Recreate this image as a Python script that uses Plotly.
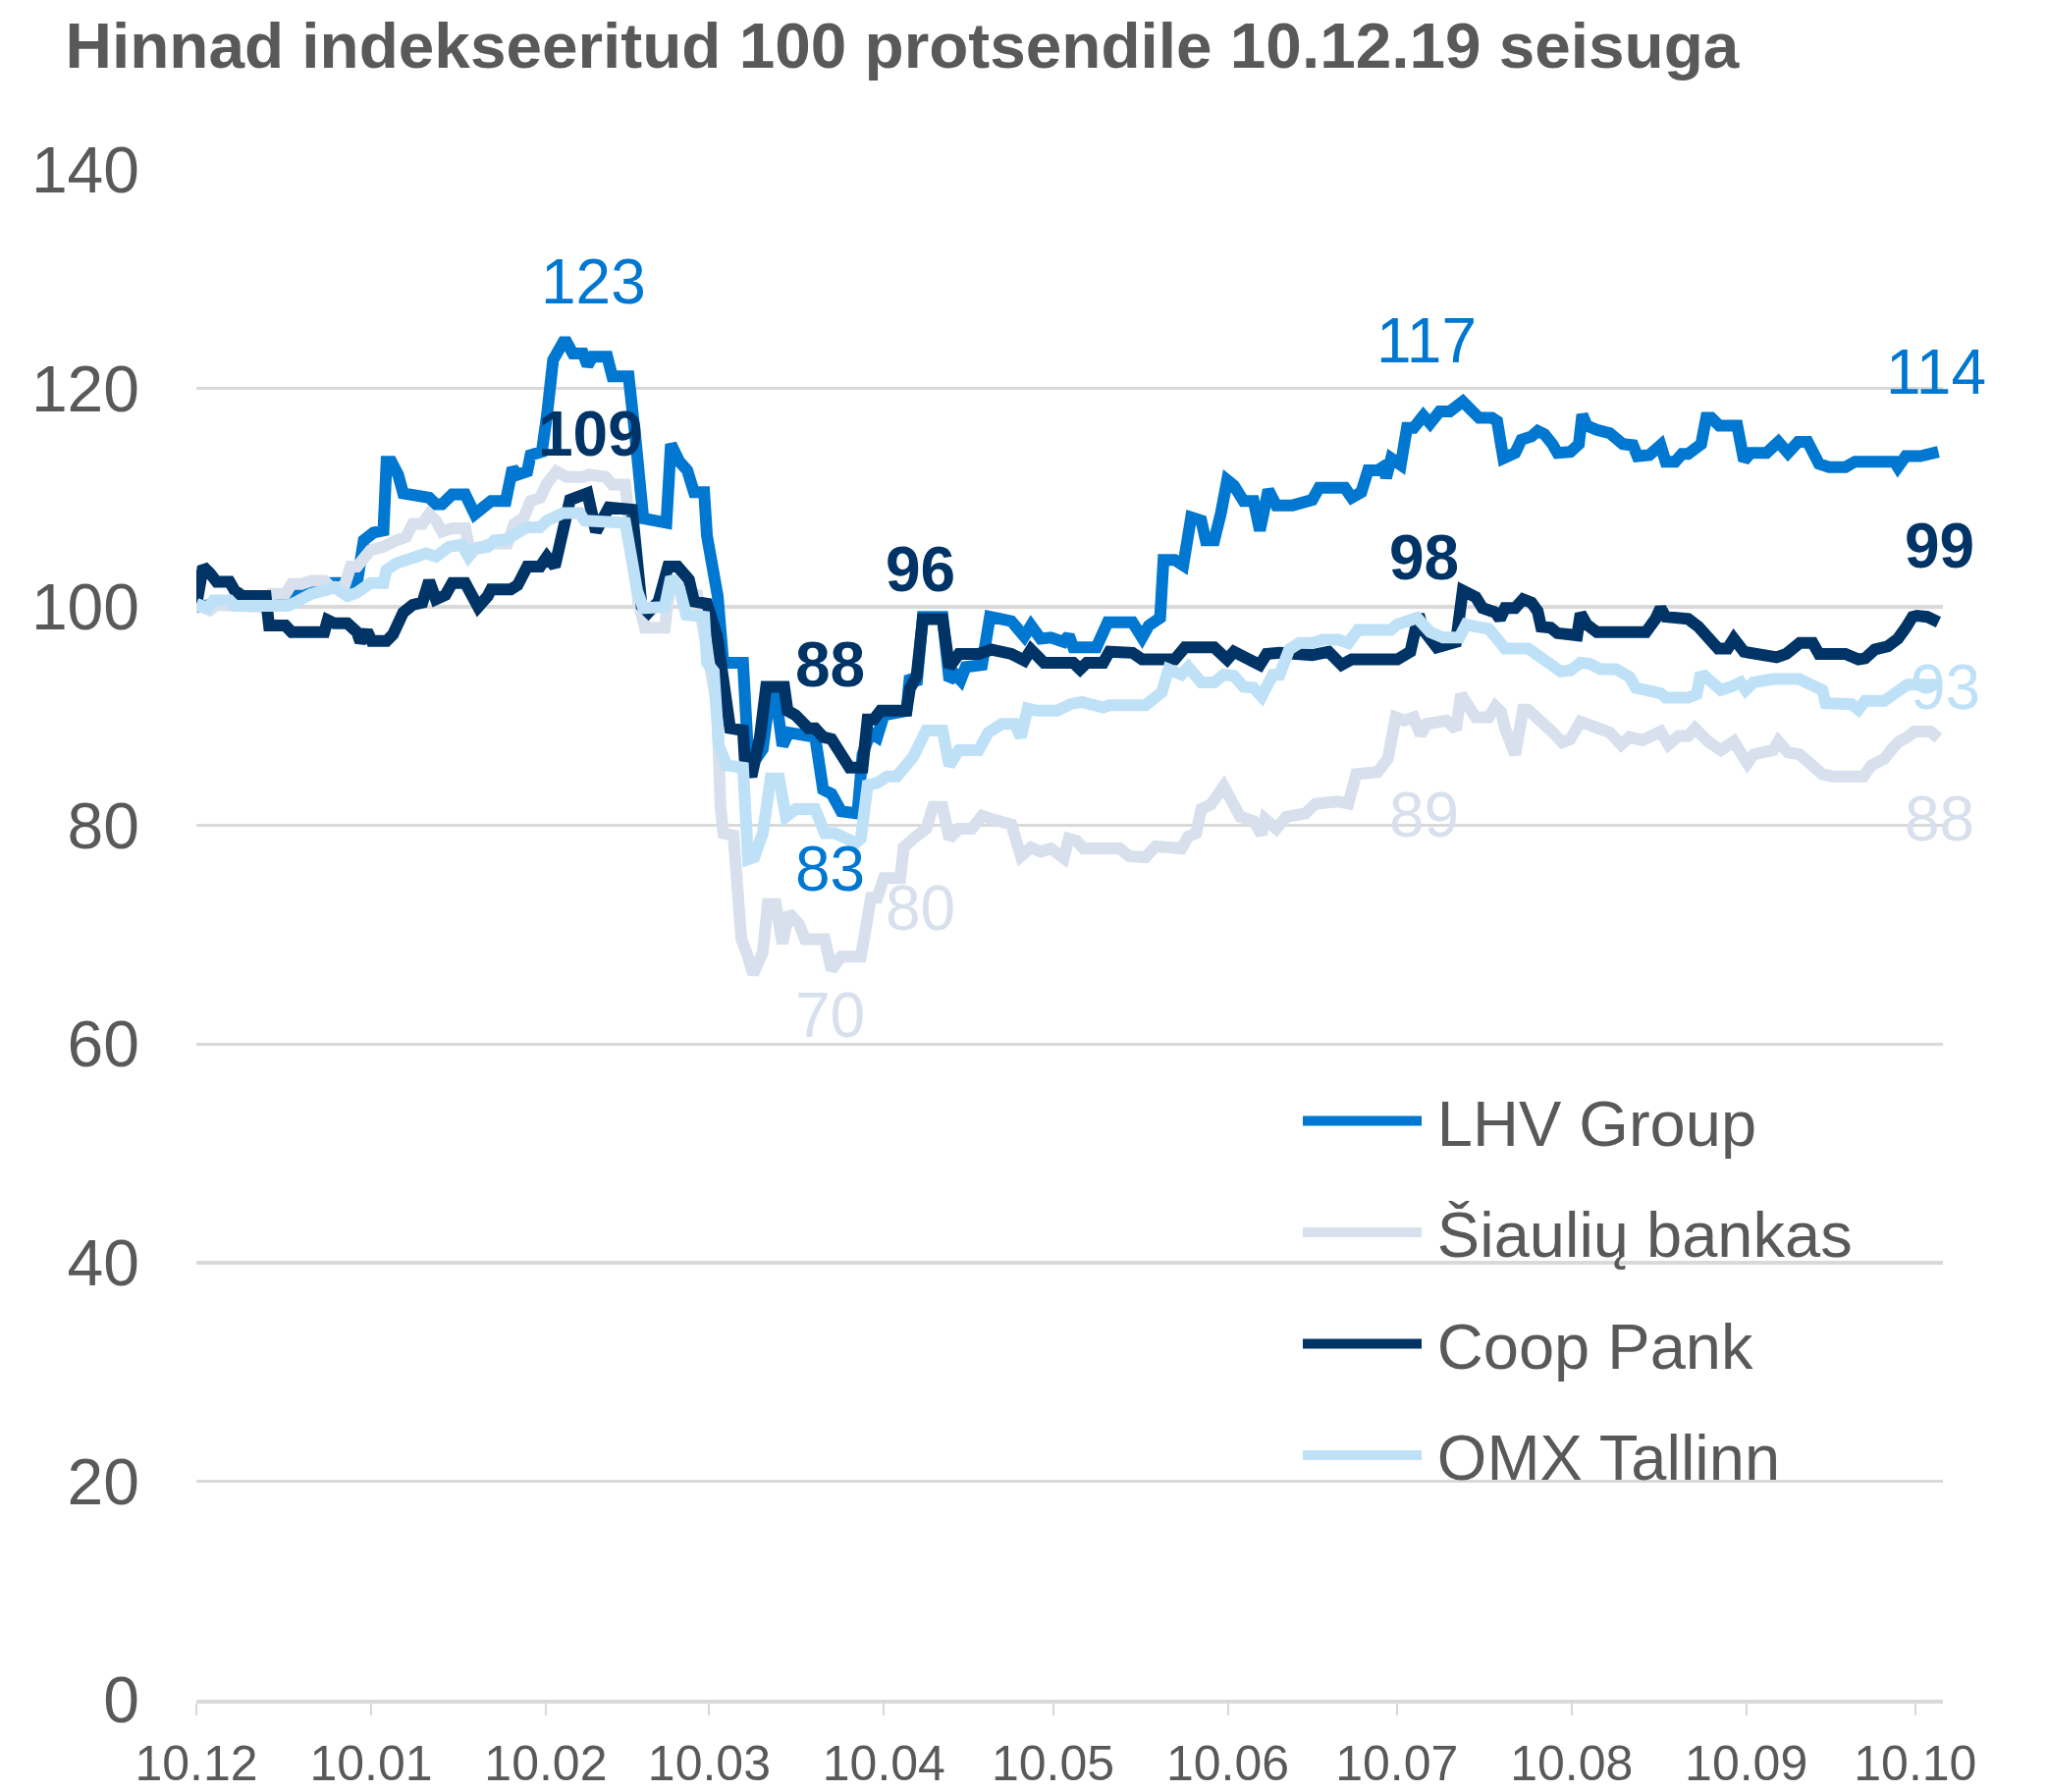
import pandas as pd
import plotly.graph_objects as go

START = pd.Timestamp("2019-12-10")

# ---- data: days since 10.12.2019 and index values (10.12.19 = 100) ----
lhv_days = [0, 4, 8, 13, 20, 23, 28.5, 29.7, 31.4, 33.2, 33.75, 34.6, 35.8, 36.7, 39, 41.3, 42.5, 43.6, 45.4, 47.7,
            49.4, 50.6, 52.3, 54.9, 56.1, 57, 58.7, 59.3, 61.3, 62.2, 63.3, 65.4, 66.8, 68.6, 69.4, 70.3, 72.9, 73.8,
            76.7, 78, 79.3, 83.4, 84.2, 85.7, 87.1, 88.3, 90.1, 90.6, 91.5, 92.5, 93.5, 97, 97.9, 99.3, 100.5, 101.7,
            102.8, 104, 105.1, 107.5, 109.8, 111.2, 112.7, 114.4, 117.3, 118.2, 119.6, 120.8, 122, 126, 126.6, 127.8,
            128.9, 132.4, 133.6, 134.7, 135.6, 136.5, 139.4, 140.8, 144.6, 146.9, 148.1, 149.8, 151.6, 153.9, 154.8,
            155.6, 159.7, 161.7, 166.1, 167.8, 169, 171, 171.6, 173.6, 175.1, 176.5, 178.3, 179.1, 180.6, 181.8, 182.9,
            184.1, 185.8, 187.6, 188.7, 190.2, 191.6, 194.5, 196.8, 198, 199.2, 203.8, 205, 206.7, 207.9, 209.6, 210.8,
            211.1, 212, 213.7, 214.8, 216, 217.7, 218.9, 220.6, 222.4, 224.7, 227.6, 229.9, 230.8, 231.9, 234, 235.1,
            236.9, 238, 239.2, 240.6, 241.5, 243.8, 245.3, 245.9, 246.7, 248.5, 250.8, 253.1, 254.9, 255.7, 257.8,
            259.8, 260.7, 262.4, 263.6, 264.7, 267, 267.9, 268.8, 270.2, 273.4, 274.6, 275.8, 278.6, 280.7, 282.4,
            284.2, 285.9, 287.4, 287.9, 289.7, 292.6, 294.3, 301.3, 301.9, 303.3, 305.9, 307.4, 309.1]
lhv_vals = [100, 100.3, 100.6, 101, 101.5, 102.2, 102.2, 106.1, 106.8, 107, 113.3, 113.3, 112.1, 110.4, 110.3, 110,
            109.4, 109.4, 110.3, 110.3, 108.5, 109.1, 109.7, 109.7, 112.7, 112.1, 112.4, 113.9, 114.2, 117.5, 122.6,
            124.5, 123.2, 123.2, 122.1, 122.9, 122.9, 121.1, 121.1, 115, 108.1, 107.7, 114.9, 113.3, 112.5, 110.5,
            110.5, 106.5, 103.5, 101, 94.9, 94.9, 86.5, 86.1, 87, 91.7, 91.9, 87.3, 88.5, 88.3, 88.1, 83.3, 82.9, 81.3,
            81.1, 86.5, 88.5, 88.1, 90.1, 90.5, 93.7, 92.9, 99.1, 99.1, 93.3, 93.8, 93.3, 94.5, 94.7, 99.1, 98.7, 97.3,
            98.3, 97.1, 97.2, 96.8, 97.4, 96.3, 96.3, 98.6, 98.6, 97.2, 98.3, 99, 104.3, 104.3, 103.8, 108.2, 107.9,
            106.1, 106.1, 108.6, 111.6, 111.1, 109.7, 109.7, 107, 110.7, 109.3, 109.3, 109.8, 109.8, 110.9, 110.9, 110,
            110.5, 112.5, 112.5, 112.9, 111.8, 113.6, 113, 116.4, 116.4, 117.5, 116.8, 117.9, 117.9, 118.8, 117.3,
            117.3, 117, 113.6, 114.1, 115.3, 115.6, 116.1, 115.8, 114.9, 114.1, 114.2, 114.9, 117.6, 116.6, 116.2,
            115.9, 114.9, 114.8, 113.8, 113.9, 114.8, 113.3, 113.3, 114, 114, 114.9, 117.3, 117.3, 116.6, 116.6, 113.4,
            114.1, 114.1, 115.1, 114.1, 115.1, 115.1, 113.9, 113.1, 112.8, 112.8, 113.3, 113.3, 112.8, 113.8, 113.8,
            114.1, 114.2]

siaul_days = [0, 1.3, 2.4, 3.6, 5.9, 6.8, 12.3, 13.4, 15.8, 16.9, 18.7, 20.4, 22.7, 23.9, 26.2, 27.4, 28.5, 30.9,
              33.2, 35.5, 37.2, 38.4, 40.1, 41.3, 42.5, 43.6, 45.4, 47.7, 48.5, 50.6, 52.3, 55.2, 56.4, 58.1, 59.3, 61,
              62.2, 63.9, 65.7, 68.6, 69.7, 72.6, 73.8, 76.1, 77.3, 78.4, 79.6, 83.1, 84.2, 85.1, 86.6, 88.9, 90.1,
              91.2, 92.4, 93, 93.5, 95.3, 96.7, 97.6, 98.8, 100.5, 101.4, 102.8, 104, 105.1, 106.9, 108, 111.5, 112.7,
              114.4, 117.9, 119.1, 119.7, 120.8, 122, 124.9, 125.5, 127.2, 129.5, 130.7, 132.4, 133.6, 135.3, 137.6,
              139.4, 141.7, 144.6, 146.3, 148.1, 149.8, 151.6, 153.9, 154.8, 156.2, 157.4, 163.8, 165.5, 168.4, 170.2,
              174.8, 176, 177.4, 178.3, 180, 182.3, 185.2, 187.6, 189, 189.6, 191.6, 193.4, 196.8, 198.6, 202.6, 204.4,
              205.8, 209.6, 211.4, 212.8, 214.3, 216, 217.2, 218.3, 221.8, 223.5, 224.4, 225.9, 227, 229.3, 230.5,
              231.5, 232.2, 234, 235.4, 236.3, 238.6, 240.3, 242.4, 243.8, 245.6, 246.7, 248.5, 250.8, 252.8, 254.3,
              256.6, 258.3, 259.8, 261.2, 263, 264.7, 265.9, 268.2, 270.5, 272.8, 275.2, 276.3, 279.8, 280.7, 282.4,
              284.5, 288.5, 290.3, 295.8, 297.2, 299.5, 300.7, 301.9, 303.6, 304.8, 307.7, 309.1]
siaul_vals = [100.2, 100, 99.7, 100.2, 100.2, 100, 100, 101.2, 101.2, 102.1, 102.1, 102.4, 102.4, 101.8, 101.8, 103.7,
              103.7, 105.2, 105.5, 106.1, 106.4, 107.6, 107.6, 108.5, 107.9, 106.9, 107.2, 107.2, 105.3, 105.5, 105.8,
              105.8, 107.6, 108.2, 109.7, 110, 111.3, 112.4, 111.9, 111.9, 112.1, 111.9, 111.2, 111.2, 105.3, 100.5,
              98.1, 98.1, 102.5, 102.1, 101.3, 101.1, 97.3, 94.9, 90.9, 81.7, 79.3, 79.1, 69.6, 68.4, 66.4, 68.4, 72.8,
              72.8, 69.2, 72, 71, 69.6, 69.6, 66.8, 68, 68, 70.8, 73.4, 73.4, 75.2, 75.2, 78, 78.8, 79.7, 81.7, 81.7,
              78.8, 79.7, 79.7, 80.9, 80.5, 80.1, 77.2, 78, 77.6, 77.9, 77, 78.8, 78.6, 77.9, 77.9, 77.2, 77.1, 78.1,
              77.9, 79, 79.3, 81.5, 81.9, 83.6, 80.8, 80.4, 79.2, 80.6, 79.7, 80.8, 81.1, 82, 82.2, 82, 84.7, 84.9, 86.1,
              89.9, 89.6, 89.9, 88.3, 89.3, 89.6, 88.8, 92, 90.8, 89.9, 89.9, 90.9, 90.4, 88.9, 86.5, 90.6, 90.6, 89.7,
              88.7, 87.6, 87.9, 89.5, 89.3, 88.7, 88.5, 87.4, 88.1, 87.8, 88.1, 88.6, 87.4, 88.2, 88.2, 88.9, 87.7,
              86.9, 87.7, 85.7, 86.5, 86.9, 87.7, 86.7, 86.5, 84.7, 84.5, 84.5, 85.5, 86.1, 86.9, 87.6, 88.1, 88.6,
              88.6, 88]

coop_days = [0, 1.2, 2.4, 3.6, 5.9, 6.8, 8.2, 12.3, 12.9, 15.8, 16.9, 22.7, 23.3, 24.5, 26.8, 28.5, 29.1, 30.3, 31.1,
             33.75, 34.9, 36.7, 38.4, 40.1, 41.3, 42.5, 44.2, 45.4, 47.7, 49.1, 50, 51.7, 52.3, 55.8, 57, 58.7, 61,
             62.2, 63.6, 66.3, 68, 69.4, 70.9, 72.6, 73.2, 77.3, 78.4, 79, 80.2, 82, 83.7, 85.4, 87.4, 88.3, 90.6,
             91.8, 92.4, 94.7, 97, 97.3, 98.5, 100, 101.1, 104.3, 104.9, 106.3, 108.6, 109.8, 111.2, 112.7, 115, 115.9,
             118.2, 119.1, 120.2, 121.4, 126, 126.6, 127.8, 128.9, 132.4, 133.6, 135.3, 138.8, 141.1, 144.6, 146.9,
             148.1, 150.4, 155.6, 156.8, 158, 160.9, 162, 166.1, 167.8, 173.6, 175.4, 180.6, 182.9, 184.1, 186.4,
             188.7, 189.9, 192.2, 198, 200.9, 203.2, 205, 213.1, 215.4, 216.9, 217.7, 220.1, 221.2, 223.5, 224.7, 227,
             228.2, 230.5, 231.3, 232.2, 234, 235.4, 236.9, 238, 238.6, 240.3, 241.5, 243.8, 245, 245.6, 246.7, 248.5,
             257.2, 258.9, 259.8, 260.7, 264.7, 266.5, 268.2, 270, 271.7, 272.8, 274.6, 279.2, 280.4, 282.1, 284.5,
             286.8, 287.9, 292.6, 294.9, 296.1, 297.8, 300.1, 301.9, 303.3, 304.5, 305.3, 307.1, 309.1]
coop_vals = [100.2, 103.7, 103.1, 102.3, 102.3, 101.5, 101, 101, 98.3, 98.3, 97.7, 97.7, 98.8, 98.5, 98.5, 97.7, 96.8,
             97.8, 96.9, 96.9, 97.5, 99.5, 100.2, 100.4, 102.4, 100.7, 101.1, 102.2, 102.2, 101, 100, 101, 101.6, 101.6,
             102, 103.7, 103.7, 104.6, 103.7, 109.8, 110, 110.4, 106.9, 108.6, 109.1, 108.9, 104.5, 100.1, 99.5, 100.5,
             103.7, 103.7, 102.5, 100.5, 100.3, 98.1, 97.3, 88.9, 88.7, 86.1, 84.5, 88.1, 92.7, 92.7, 90.5, 90.1, 88.9,
             88.9, 88.1, 87.9, 86.1, 85.3, 85.3, 89.7, 89.7, 90.5, 90.5, 92.5, 93.7, 98.9, 98.9, 94.5, 95.7, 95.7, 96.1,
             95.7, 95.1, 96.1, 94.9, 94.9, 94.3, 94.9, 94.9, 95.9, 95.8, 95.2, 95.2, 96.3, 96.3, 95.2, 95.9, 95.2, 94.7,
             95.7, 95.8, 95.6, 95.9, 94.7, 95.2, 95.2, 95.9, 99.3, 97.9, 96.3, 96.5, 96.8, 101.5, 100.9, 99.9, 99.5,
             98.9, 99.9, 99.9, 100.7, 100.4, 99.6, 98.2, 98.1, 97.6, 97.6, 97.4, 99.4, 98.4, 97.7, 97.7, 98.9, 99.9,
             99.1, 98.9, 98.2, 97.2, 96.2, 96.2, 97.1, 95.9, 95.7, 95.4, 95.7, 96.7, 96.7, 95.7, 95.7, 95.2, 95.3, 96.1,
             96.4, 97.1, 98.1, 99.1, 99.2, 99.1, 98.6]

omx_days = [0, 2, 3, 5.9, 6.8, 16.3, 17.5, 20.4, 22.7, 24.5, 26.8, 28.5, 30.9, 33.2, 33.75, 35.5, 39, 40.7, 42.5,
            44.8, 47.1, 48.3, 49.4, 51.7, 52.9, 55.2, 57, 58.7, 61, 62.2, 65.1, 68, 68.9, 70.9, 72.6, 76.1, 77.2, 78.2,
            79.3, 83.1, 84.2, 85.7, 86.9, 90.1, 90.6, 91.8, 92.7, 94.1, 97, 97.3, 97.9, 99, 100.5, 101.9, 103.4, 104.6,
            106.3, 109.8, 111.5, 113.3, 115, 117, 117.9, 119.1, 120.8, 122.6, 124.3, 126, 127.2, 129.5, 132.4, 133.6,
            135.3, 138.8, 140.5, 142.9, 145.2, 146.3, 147.5, 149.2, 152.7, 155.1, 157.1, 160.9, 162, 168.4, 171.3,
            172.5, 174.8, 176, 178.3, 180.6, 182.3, 184.1, 185.8, 187.6, 189, 191, 192.2, 193.9, 195.7, 198, 199.8,
            202.7, 204.4, 206.1, 207.3, 209.6, 211.9, 213.1, 214.8, 216.6, 218.9, 221.2, 224.1, 225.3, 227, 229.3,
            231.1, 232.2, 236.3, 238, 239.8, 242.1, 243.8, 245.6, 247.3, 249.1, 251.9, 254.3, 255.4, 257.2, 259.8,
            260.7, 264.7, 266.2, 266.8, 267.6, 269.4, 270.5, 272.3, 274, 274.9, 276.3, 279.8, 284.5, 285.6, 287.1,
            288.5, 289.1, 291.4, 293.7, 294.9, 296.1, 299.5, 301.9, 303.6, 305.9, 309.1]
omx_vals = [100.3, 99.9, 100.6, 100.6, 100.1, 100.1, 100.4, 101.2, 101.5, 101.8, 101, 101.3, 102.2, 102.2, 103.4, 104,
            104.6, 104.9, 104.6, 105.5, 105.7, 104.6, 105.3, 105.5, 106.1, 106.2, 106.8, 107.3, 107.3, 107.9, 108.6,
            108.6, 107.9, 107.9, 107.7, 107.7, 104.5, 101.5, 99.9, 100, 102.7, 101.7, 99.3, 99.1, 94.9, 94.1, 87.3,
            85.5, 85.3, 79.3, 76.9, 77.1, 79.3, 84.3, 84.3, 80.8, 81.5, 81.5, 79.3, 79.3, 78.8, 78.4, 78.8, 83.7, 83.9,
            84.5, 84.5, 85.7, 86.3, 88.7, 88.7, 85.5, 86.9, 86.9, 88.5, 89.3, 89.3, 88.1, 90.7, 90.5, 90.5, 91.1, 91.3,
            90.8, 91, 91, 92.2, 94.3, 93.8, 94.5, 93.1, 93.1, 93.8, 93.7, 92.7, 92.6, 91.8, 93.8, 93.8, 96.1, 96.7,
            96.7, 97, 97, 96.7, 97.9, 97.9, 98.1, 97.9, 98.4, 98.7, 99, 97.7, 97.2, 97.2, 98.4, 98.2, 98, 96.9, 96.2,
            96.2, 95.6, 95.2, 94.1, 94.2, 94.9, 94.8, 94.3, 94.3, 93.6, 92.6, 92.5, 92.1, 91.7, 91.7, 92, 93.6, 93.7,
            92.7, 92.4, 92.7, 93.1, 92.4, 93.1, 93.4, 93.4, 93.1, 92.6, 92.4, 91.2, 91.2, 91.1, 90.6, 91.4, 91.4, 92.1,
            92.9, 92.9, 92.9]

series_names = ["LHV Group", "Šiaulių bankas", "Coop Pank", "OMX Tallinn"]
tick_dates = ["2019-12-10", "2020-01-10", "2020-02-10", "2020-03-10", "2020-04-10", "2020-05-10",
              "2020-06-10", "2020-07-10", "2020-08-10", "2020-09-10", "2020-10-10"]
tick_labels = ["10.12", "10.01", "10.02", "10.03", "10.04", "10.05", "10.06", "10.07", "10.08", "10.09", "10.10"]
y_ticks = [0, 20, 40, 60, 80, 100, 120, 140]

# data labels: (text, series index)
label_texts = ["123", "109", "88", "83", "70", "80", "96", "117", "98", "89", "114", "99", "93", "88"]
label_series = [0, 2, 2, 0, 1, 1, 2, 0, 2, 1, 0, 2, 3, 1]

# ---- styling ----
FONT = "Liberation Sans, Arial, sans-serif"
TEXT = "#595959"
GRID = "#D9D9D9"
colors = ["#0077D0", "#D7E0EC", "#003466", "#BFE1F7"]
bold = [False, False, True, False]
# label positions (days since start, y value) and extra pixel shift
label_pos = [(70.4, 129.8), (69.9, 115.8), (112.5, 94.7), (112.5, 76.0), (112.5, 62.6), (128.5, 72.4),
             (128.5, 103.4), (218.3, 124.4), (217.9, 104.5), (217.9, 81.0), (308.6, 121.5), (309.3, 105.6),
             (309.3, 92.6), (309.3, 80.6)]
label_xshift = [0, 0, 0, 0, 0, 0, 0, 0, 0, 0, 0, 0, 6, 0]

FIG_W, FIG_H = 2085, 1825
PAD = "\u200a\u200a"


def to_dates(days):
    return START + pd.to_timedelta(pd.Series(days, dtype=float), unit="D")


fig = go.Figure()
all_days = [lhv_days, siaul_days, coop_days, omx_days]
all_vals = [lhv_vals, siaul_vals, coop_vals, omx_vals]
for i, name in enumerate(series_names):
    fig.add_trace(go.Scatter(
        x=to_dates(all_days[i]), y=all_vals[i], mode="lines", name=PAD + name,
        legendgroup=f"g{i}",
        line=dict(color=colors[i], width=12),
        hoverinfo="skip",
    ))

for txt, si, (d, v), xs in zip(label_texts, label_series, label_pos, label_xshift):
    fig.add_annotation(
        x=START + pd.Timedelta(days=d), y=v, text=(f"<b>{txt}</b>" if bold[si] else txt),
        showarrow=False, xanchor="center", yanchor="middle", xshift=xs,
        font=dict(family=FONT, size=64, color=colors[si]),
    )

x_end = START + pd.Timedelta(days=309.9)

fig.update_layout(
    width=FIG_W, height=FIG_H,
    margin=dict(l=200, r=106, t=173, b=94, autoexpand=False),
    paper_bgcolor="white", plot_bgcolor="white",
    font=dict(family=FONT, color=TEXT),
    title=dict(text="<b>Hinnad indekseeritud 100 protsendile 10.12.19 seisuga</b>",
               x=66.5 / FIG_W, xref="container", xanchor="left",
               y=1 - 46 / FIG_H, yref="container", yanchor="middle",
               font=dict(family=FONT, size=65.7, color=TEXT)),
    showlegend=True,
    legend=dict(x=0.6307, y=0.4097, xanchor="left", yanchor="top",
                font=dict(family=FONT, size=65, color=TEXT),
                bgcolor="rgba(0,0,0,0)", itemwidth=121, tracegroupgap=26,
                traceorder="grouped"),
)
fig.update_xaxes(
    type="date", range=[START, x_end], automargin=False,
    tickvals=pd.to_datetime(tick_dates), ticktext=tick_labels,
    showgrid=False, zeroline=False,
    showline=True, linecolor=GRID, linewidth=3.5,
    ticks="outside", ticklen=12, tickwidth=2, tickcolor=GRID,
    tickfont=dict(family=FONT, size=50, color=TEXT),
    ticklabelstandoff=6,
)
fig.update_yaxes(
    range=[0, 140], tickvals=y_ticks, automargin=False,
    showgrid=True, gridcolor=GRID, gridwidth=3.5,
    zeroline=False, showline=False, ticks="",
    tickfont=dict(family=FONT, size=66, color=TEXT),
    ticklabelstandoff=57,
)

# remove the browser's default 8px page margin so the figure fills the window exactly
fig.write_html("out.html", config={"displayModeBar": False, "staticPlot": True},
               post_script="document.body.style.margin='0px';")
